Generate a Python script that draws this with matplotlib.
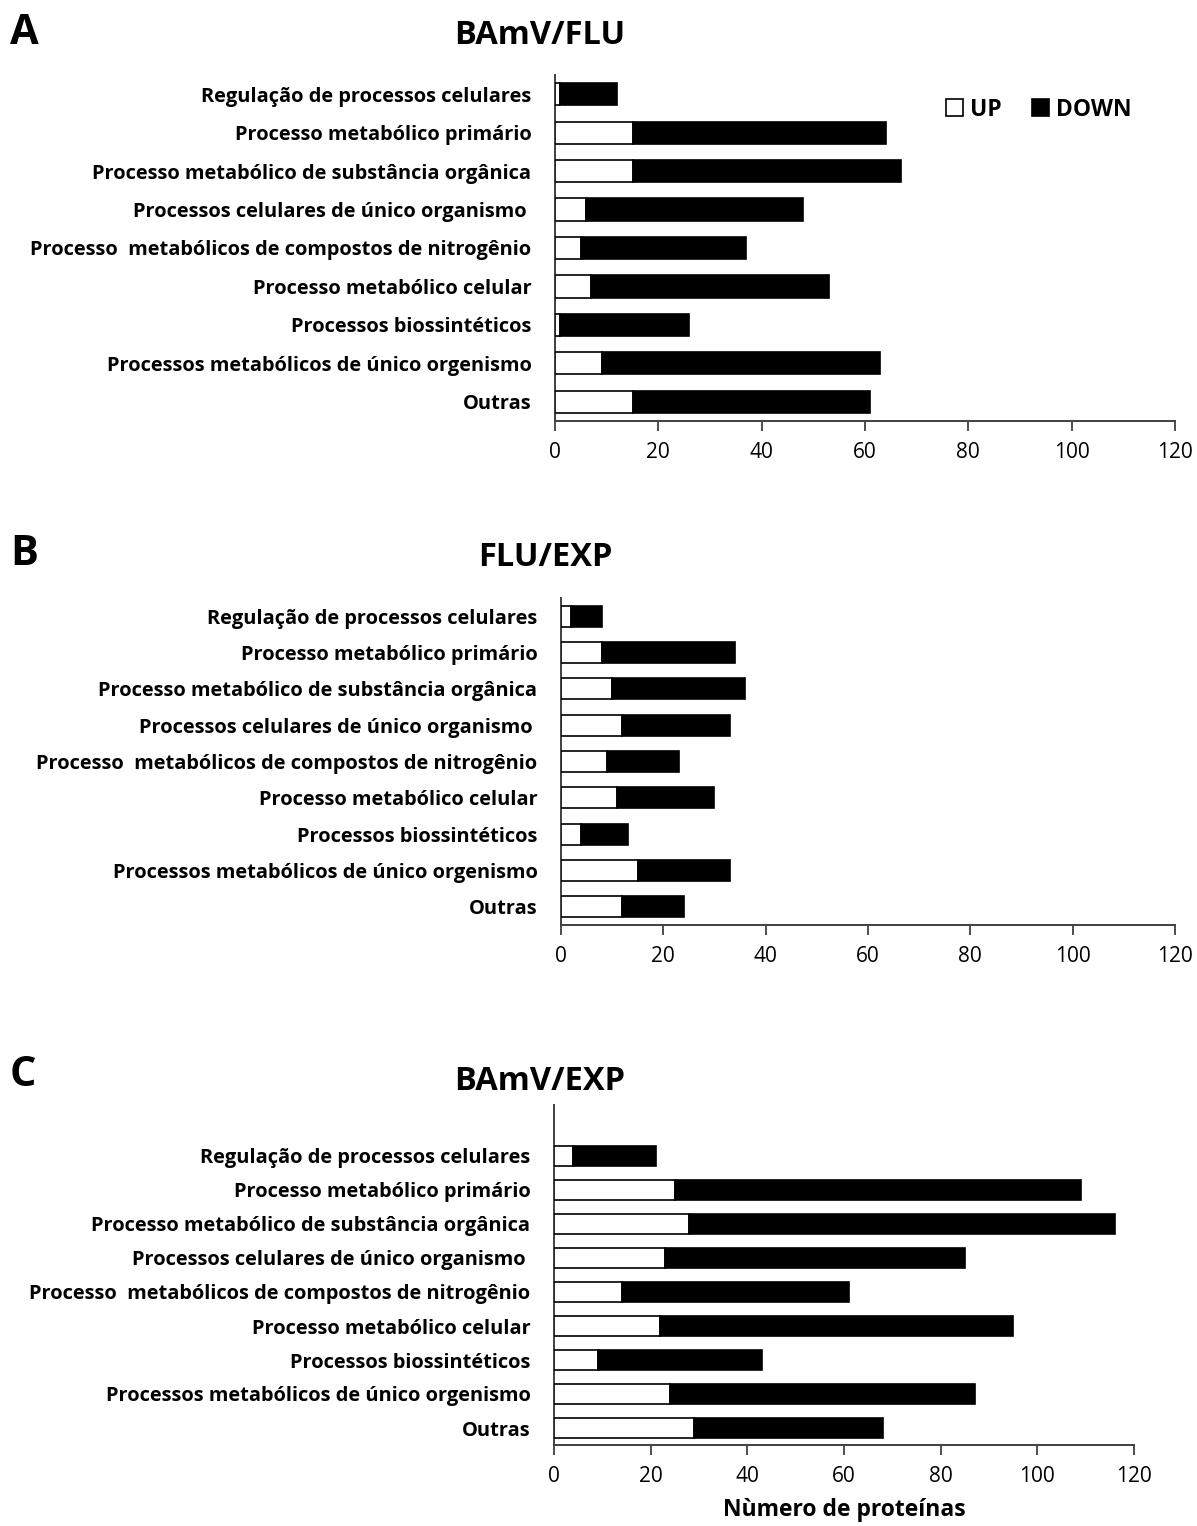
import matplotlib
matplotlib.use("Agg")
import matplotlib.pyplot as plt
from matplotlib.patches import Patch
import numpy as np

plt.rcParams['font.family'] = ['Open Sans', 'DejaVu Sans']

categories = [
    "Regulação de processos celulares",
    "Processo metabólico primário",
    "Processo metabólico de substância orgânica",
    "Processos celulares de único organismo ",
    "Processo  metabólicos de compostos de nitrogênio",
    "Processo metabólico celular",
    "Processos biossintéticos",
    "Processos metabólicos de único orgenismo",
    "Outras",
]

panel_letters = ["A", "B", "C"]
panel_titles = ["BAmV/FLU", "FLU/EXP", "BAmV/EXP"]

up_A = [1, 15, 15, 6, 5, 7, 1, 9, 15]
down_A = [11, 49, 52, 42, 32, 46, 25, 54, 46]

up_B = [2, 8, 10, 12, 9, 11, 4, 15, 12]
down_B = [6, 26, 26, 21, 14, 19, 9, 18, 12]

up_C = [4, 25, 28, 23, 14, 22, 9, 24, 29]
down_C = [17, 84, 88, 62, 47, 73, 34, 63, 39]

xticks = [0, 20, 40, 60, 80, 100, 120]
xlabel = "Nùmero de proteínas"
legend_labels = ["UP", "DOWN"]

W, H = 1197, 1526
fig = plt.figure(figsize=(W / 100, H / 100), dpi=100)

def frac(left, top, right, bottom):
    return [left / W, 1 - bottom / H, (right - left) / W, (bottom - top) / H]

rects = [
    frac(555, 75, 1175, 421),
    frac(561, 598, 1175, 925),
    frac(554, 1105, 1134, 1445),
]
ylims = [(8.5, -0.5), (8.5, -0.5), (8.5, -1.5)]
ups = [up_A, up_B, up_C]
downs = [down_A, down_B, down_C]
letter_y = [34, 555, 1075]
title_y = [35, 558, 1081]
title_x = [540, 545, 540]

label_fs = 14.4
tick_fs = 15
for i in range(3):
    ax = fig.add_axes(rects[i])
    y = np.arange(len(categories))
    ax.barh(y, ups[i], height=0.58, color="white", edgecolor="black", linewidth=1.2, zorder=3)
    ax.barh(y, downs[i], left=ups[i], height=0.58, color="black", edgecolor="black", linewidth=1.2, zorder=3)
    ax.set_xlim(0, 120)
    ax.set_ylim(*ylims[i])
    ax.set_xticks(xticks)
    ax.set_xticklabels([str(t) for t in xticks], fontsize=tick_fs)
    ax.set_yticks(y)
    ax.set_yticklabels(categories, fontsize=label_fs, fontweight="bold")
    ax.tick_params(axis="y", length=0, pad=17)
    ax.tick_params(axis="x", length=7, width=1.3, color="#404040", pad=8)
    for s in ["top", "right"]:
        ax.spines[s].set_visible(False)
    for s in ["left", "bottom"]:
        ax.spines[s].set_linewidth(1.4)
        ax.spines[s].set_color("#404040")
    fig.text(10 / W, 1 - letter_y[i] / H, panel_letters[i], fontsize=30, fontweight="bold",
             ha="left", va="center")
    fig.text(title_x[i] / W, 1 - title_y[i] / H, panel_titles[i], fontsize=23.5, fontweight="bold",
             ha="center", va="center")
    if i == 0:
        handles = [Patch(facecolor="white", edgecolor="black", linewidth=1.2),
                   Patch(facecolor="black", edgecolor="black", linewidth=1.2)]
        ax.legend(handles, legend_labels, loc="center", bbox_to_anchor=(0.78, 0.9),
                  ncol=2, frameon=False, prop={"size": 16.5, "weight": "bold"},
                  handlelength=0.75, handleheight=0.75, handletextpad=0.3, columnspacing=1.3)
    if i == 2:
        ax.set_xlabel(xlabel, fontsize=16.5, fontweight="bold", labelpad=8)

fig.savefig("out.png", dpi=100)
